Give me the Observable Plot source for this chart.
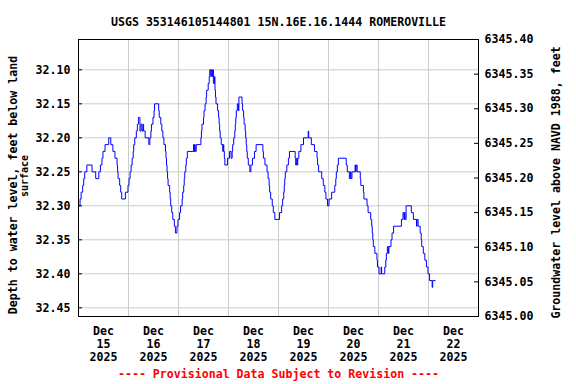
<!DOCTYPE html>
<html><head><meta charset="utf-8">
<script src="https://cdn.jsdelivr.net/npm/d3@7"></script>
<script src="https://cdn.jsdelivr.net/npm/@observablehq/plot@0.6"></script>
<style>body{margin:0;background:#fff} svg{display:block}</style>
</head><body><div id="chart"></div>
<script>
const title = "USGS 353146105144801 15N.16E.16.1444 ROMEROVILLE";
const leftLabel = "Depth to water level, feet below land";
const leftLabel2 = "surface";
const rightLabel = "Groundwater level above NAVD 1988, feet";
const caption = "---- Provisional Data Subject to Revision ----";
const startDate = "2025-12-15T00:00:00Z";
const endDate = "2025-12-23T00:00:00Z";
const dayLabels = ["15","16","17","18","19","20","21","22"];
const monthLabel = "Dec";
const yearLabel = "2025";
const depthTicks = [32.10,32.15,32.20,32.25,32.30,32.35,32.40,32.45];
const elevTicks = [6345.00,6345.05,6345.10,6345.15,6345.20,6345.25,6345.30,6345.35,6345.40];
const depthDomain = [32.0554, 32.4628];
const elevDomain = [6345.00, 6345.40];

// hours since Dec 15 00:00 and depth to water (ft)
const hours = [0.25,0.75,1.25,2,2.5,3,4,6.5,8.25,9.75,10.5,11.25,11.75,12.75,14.5,15.5,16.5,17.5,18.5,18.75,19,19.75,20.25,20.75,22.5,23.75,24.25,24.75,25.25,25.75,26.25,26.5,27,27.75,28.25,28.75,29.5,30,30.5,31,31.25,32,33.75,34.25,34.75,35,35.75,36.25,36.5,38.5,38.75,39.5,40,40.5,41,41.75,42,42.25,42.5,42.75,43,43.75,44,44.25,44.75,45.25,46,46.5,47.25,47.75,48.5,49,49.75,50,50.5,50.75,51,51.5,51.75,52.25,55.25,55.5,55.75,56,56.5,58.75,59,59.25,60,60.25,60.75,61.25,61.5,62.25,62.75,63,63.5,63.75,64.25,64.5,64.75,65.25,65.5,65.75,66,66.75,67.25,67.5,67.75,68,68.5,69.25,69.5,69.75,70,70.25,71.5,72.5,73.25,73.75,74,74.5,75,75.25,75.5,75.75,76.25,76.75,77,78.5,78.75,79.25,79.5,80,80.25,80.5,80.75,81,81.5,82.25,82.75,83.5,84.5,85.25,88.5,88.75,89.5,90.5,91,91.5,91.75,92.25,93,93.5,94.25,96.5,97.5,98,98.5,98.75,99,99.25,100,100.75,101.25,104,104.25,104.75,105,105.25,105.75,106.75,108,110.25,110.5,111.75,113.25,114.5,114.75,115.25,116.75,117.5,118.25,118.75,119.5,120.25,121.5,123,123.5,123.75,124.25,124.75,128.5,129,130,130.5,130.75,131.25,132.75,133,133.25,133.75,135.25,135.5,136.75,137,138.5,139,140.25,140.75,141,141.25,141.5,142.25,143.25,143.5,144.25,145.25,145.5,147,147.5,147.75,148.25,148.75,149,150,150.5,151.25,155,155.75,156.25,156.5,156.75,157.25,159.75,160.75,162.25,162.5,163,164,164.5,164.75,165.5,166.25,167,167.75,168.5,169.75,170,171.25];
const depths = [32.30,32.29,32.28,32.27,32.26,32.25,32.24,32.25,32.26,32.25,32.24,32.23,32.22,32.21,32.20,32.21,32.22,32.23,32.24,32.25,32.26,32.27,32.28,32.29,32.28,32.27,32.26,32.25,32.24,32.23,32.22,32.21,32.20,32.19,32.18,32.17,32.19,32.18,32.19,32.18,32.19,32.20,32.21,32.20,32.19,32.18,32.17,32.16,32.15,32.16,32.17,32.18,32.19,32.20,32.21,32.22,32.23,32.24,32.25,32.26,32.27,32.28,32.29,32.30,32.31,32.32,32.33,32.34,32.33,32.32,32.31,32.30,32.29,32.28,32.27,32.26,32.25,32.24,32.23,32.22,32.21,32.22,32.21,32.22,32.21,32.20,32.19,32.18,32.17,32.16,32.15,32.14,32.13,32.12,32.11,32.10,32.11,32.10,32.11,32.10,32.12,32.11,32.13,32.14,32.15,32.16,32.17,32.18,32.19,32.20,32.21,32.22,32.21,32.22,32.23,32.24,32.23,32.22,32.23,32.22,32.21,32.20,32.19,32.18,32.17,32.16,32.15,32.16,32.14,32.15,32.16,32.17,32.18,32.19,32.20,32.21,32.22,32.23,32.24,32.25,32.24,32.23,32.22,32.21,32.22,32.23,32.24,32.25,32.26,32.27,32.28,32.29,32.30,32.31,32.32,32.31,32.30,32.29,32.28,32.27,32.26,32.25,32.24,32.23,32.22,32.23,32.24,32.23,32.24,32.23,32.22,32.21,32.20,32.19,32.20,32.21,32.22,32.23,32.24,32.25,32.26,32.27,32.28,32.29,32.30,32.29,32.28,32.27,32.26,32.25,32.24,32.23,32.24,32.25,32.26,32.25,32.26,32.25,32.24,32.25,32.24,32.25,32.26,32.27,32.28,32.29,32.30,32.31,32.32,32.33,32.34,32.35,32.36,32.37,32.38,32.39,32.40,32.39,32.40,32.39,32.38,32.37,32.36,32.37,32.36,32.35,32.34,32.33,32.32,32.31,32.32,32.31,32.32,32.30,32.31,32.32,32.33,32.32,32.33,32.34,32.35,32.36,32.37,32.38,32.39,32.40,32.41,32.42,32.41,32.41];

const t0 = new Date(startDate).getTime();
const data = hours.map((h, i) => ({date: new Date(t0 + h * 3600e3), depth: depths[i]}));
const midnights = dayLabels.slice(1).map((d, i) => new Date(t0 + (i + 1) * 864e5));
const noons = dayLabels.map((d, i) => ({date: new Date(t0 + (i + 0.5) * 864e5), label: `${monthLabel}\n${d}\n${yearLabel}`}));

// map elevation axis onto the depth scale (top of frame = 6345.40, bottom = 6345.00)
const depthOfElev = e => depthDomain[0] + (elevDomain[1] - e) / (elevDomain[1] - elevDomain[0]) * (depthDomain[1] - depthDomain[0]);
const elevOfDepth = d => elevDomain[1] - (d - depthDomain[0]) / (depthDomain[1] - depthDomain[0]) * (elevDomain[1] - elevDomain[0]);
const elevPos = elevTicks.map(depthOfElev);

const chart = Plot.plot({
  width: 576, height: 384,
  marginLeft: 78, marginRight: 98, marginTop: 39, marginBottom: 68,
  style: {fontFamily: "'DejaVu Sans Mono', monospace", fontSize: "11.6px", fontWeight: "bold", background: "#fff", color: "#000", overflow: "visible"},
  x: {type: "utc", domain: [new Date(startDate), new Date(endDate)], axis: null},
  y: {domain: depthDomain, reverse: true, axis: null},
  marks: [
    Plot.ruleX(midnights, {stroke: "#cccccc", strokeWidth: 1}),
    Plot.ruleY(depthTicks, {stroke: "#cccccc", strokeWidth: 1}),
    Plot.line(data, {x: "date", y: "depth", curve: "step-after", stroke: "#0000ff", strokeWidth: 1}),
    Plot.frame({stroke: "#000", strokeWidth: 1}),
    Plot.ruleY(depthTicks, {stroke: "#000", insetRight: 396}),
    Plot.ruleY(elevPos.slice(1, -1), {stroke: "#000", insetLeft: 396}),
    Plot.axisY(depthTicks, {anchor: "left", tickSize: 0, tickPadding: 8, tickFormat: d3.format(".2f"), label: null}),
    Plot.axisY(elevPos, {anchor: "right", tickSize: 0, tickPadding: 6, tickFormat: d => d3.format(".2f")(elevOfDepth(d)), label: null}),
    Plot.text(noons, {x: "date", text: "label", frameAnchor: "bottom", dy: 9.5, lineAnchor: "top", lineHeight: 1.12}),
    Plot.text([title], {frameAnchor: "top", textAnchor: "middle", dy: -22}),
    Plot.text([leftLabel], {frameAnchor: "left", textAnchor: "middle", rotate: -90, dx: -65, dy: 7}),
    Plot.text([leftLabel2], {frameAnchor: "left", textAnchor: "middle", rotate: -90, dx: -53.5, dy: -2, fontSize: 10}),
    Plot.text([rightLabel], {frameAnchor: "right", textAnchor: "middle", rotate: -90, dx: 78, dy: 4.5}),
    Plot.text([caption], {frameAnchor: "bottom", textAnchor: "middle", dy: 61, fill: "#ff0000"})
  ]
});
document.getElementById("chart").appendChild(chart);
</script>
</body></html>
